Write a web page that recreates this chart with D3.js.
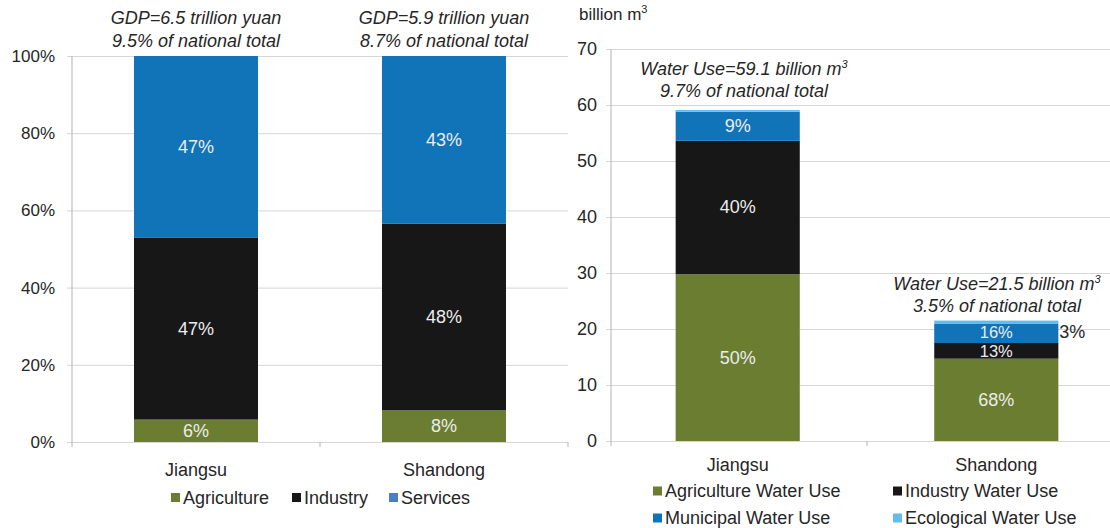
<!DOCTYPE html>
<html><head><meta charset="utf-8">
<script src="https://cdn.jsdelivr.net/npm/d3@7"></script>
<style>
html,body{margin:0;padding:0;background:#fff;}
text{font-family:"Liberation Sans",Arial,sans-serif;}
</style></head>
<body>
<svg id="chart" width="1110" height="528"></svg>
<script>
// ---------- data: left panel (GDP structure, % of GDP) ----------
const gdpCategories = ["Jiangsu", "Shandong"];
const gdpSeriesNames = ["Agriculture", "Industry", "Services"];
const gdpAgriculture = [5.8, 8.2];
const gdpIndustry = [47.2, 48.4];
const gdpServices = [47.0, 43.4];
const gdpNoteLine1 = ["GDP=6.5 trillion yuan", "GDP=5.9 trillion yuan"];
const gdpNoteLine2 = ["9.5% of national total", "8.7% of national total"];
const pctTicks = [0, 20, 40, 60, 80, 100];

// ---------- data: right panel (water use, billion m3) ----------
const waterCategories = ["Jiangsu", "Shandong"];
const waterSeriesNames = ["Agriculture Water Use", "Industry Water Use", "Municipal Water Use", "Ecological Water Use"];
const waterAgriculture = [29.8, 14.7];
const waterIndustry = [23.8, 2.8];
const waterMunicipal = [5.2, 3.4];
const waterEcological = [0.3, 0.6];
const waterTotals = [59.1, 21.5];
const waterNationalShare = [9.7, 3.5];
const waterTicks = [0, 10, 20, 30, 40, 50, 60, 70];

// ---------- styles ----------
const colAgri = "#6a7d31", colInd = "#171717", colServ = "#1174b9", colEco = "#64bbee";
const colServLegend = "#4b7fbf";
const gridCol = "#d6d6d6", axisCol = "#b3b3b3", textCol = "#262626", inCol = "#ececec";

const svg = d3.select("#chart");

function stackRows(cats, arrays) {
  return cats.map((c, i) => {
    let y0 = 0;
    return arrays.map((arr, k) => {
      const seg = { cat: c, k, v: arr[i], y0, y1: y0 + arr[i] };
      y0 += arr[i];
      return seg;
    });
  });
}

// ===================== LEFT PANEL =====================
{
  const x = d3.scaleBand().domain(gdpCategories).range([72, 568]).paddingInner(0.5).paddingOuter(0.25);
  const y = d3.scaleLinear().domain([0, 100]).range([442, 56]);
  const g = svg.append("g");

  const yAxis = d3.axisLeft(y).tickValues(pctTicks).tickFormat(d => d + "%").tickSize(-(568 - 67)).tickPadding(12);
  const ya = g.append("g").attr("transform", "translate(67,0)").call(yAxis);
  ya.select(".domain").remove();
  ya.selectAll("line").attr("stroke", gridCol).attr("x1", 0).attr("x2", 501);
  ya.selectAll("text").attr("fill", textCol).style("font-size", "17px").attr("x", -12);
  g.append("line").attr("x1", 72).attr("x2", 72).attr("y1", 56).attr("y2", 442).attr("stroke", axisCol);
  [72, 320, 568].forEach(px => g.append("line").attr("x1", px).attr("x2", px).attr("y1", 442).attr("y2", 447).attr("stroke", axisCol));

  const rows = stackRows(gdpCategories, [gdpAgriculture, gdpIndustry, gdpServices]);
  const colors = [colAgri, colInd, colServ];
  rows.forEach(row => row.forEach(s => {
    g.append("rect").attr("x", x(s.cat)).attr("width", x.bandwidth())
      .attr("y", y(s.y1)).attr("height", y(s.y0) - y(s.y1)).attr("fill", colors[s.k]);
    g.append("text").attr("x", x(s.cat) + x.bandwidth() / 2).attr("y", (y(s.y0) + y(s.y1)) / 2)
      .attr("dy", "0.35em").attr("text-anchor", "middle").attr("fill", inCol).style("font-size", "18px")
      .text(Math.round(s.v) + "%");
  }));

  gdpCategories.forEach(c => g.append("text").attr("x", x(c) + x.bandwidth() / 2).attr("y", 470)
    .attr("dy", "0.35em").attr("text-anchor", "middle").attr("fill", textCol).style("font-size", "18px").text(c));

  gdpCategories.forEach((c, i) => {
    const cx = x(c) + x.bandwidth() / 2;
    g.append("text").attr("x", cx).attr("y", 24).attr("text-anchor", "middle").attr("fill", textCol)
      .style("font-size", "18px").style("font-style", "italic").text(gdpNoteLine1[i]);
    g.append("text").attr("x", cx).attr("y", 47).attr("text-anchor", "middle").attr("fill", textCol)
      .style("font-size", "18px").style("font-style", "italic").text(gdpNoteLine2[i]);
  });

  const legX = [171, 292, 389];
  const legCols = [colAgri, colInd, colServLegend];
  gdpSeriesNames.forEach((n, i) => {
    g.append("rect").attr("x", legX[i]).attr("y", 493).attr("width", 9).attr("height", 9).attr("fill", legCols[i]);
    g.append("text").attr("x", legX[i] + 12).attr("y", 498).attr("dy", "0.35em").attr("fill", textCol)
      .style("font-size", "18px").text(n);
  });
}

// ===================== RIGHT PANEL =====================
{
  const x = d3.scaleBand().domain(waterCategories).range([611, 1123]).paddingInner(0.52).paddingOuter(0.25);
  const y = d3.scaleLinear().domain([0, 70]).range([441, 49]);
  const g = svg.append("g");

  const yAxis = d3.axisLeft(y).tickValues(waterTicks).tickFormat(d3.format("d")).tickSize(-(1110 - 606)).tickPadding(10);
  const ya = g.append("g").attr("transform", "translate(606,0)").call(yAxis);
  ya.select(".domain").remove();
  ya.selectAll("line").attr("stroke", gridCol).attr("x1", 0).attr("x2", 504);
  ya.selectAll("text").attr("fill", textCol).style("font-size", "18px").attr("x", -9);
  g.append("line").attr("x1", 611).attr("x2", 611).attr("y1", 49).attr("y2", 441).attr("stroke", axisCol);
  [611, 867].forEach(px => g.append("line").attr("x1", px).attr("x2", px).attr("y1", 441).attr("y2", 446).attr("stroke", axisCol));

  g.append("text").attr("x", 579).attr("y", 20).attr("fill", textCol).style("font-size", "17px")
    .text("billion m").append("tspan").attr("dy", "-7").style("font-size", "11px").text("3");

  const rows = stackRows(waterCategories, [waterAgriculture, waterIndustry, waterMunicipal, waterEcological]);
  const colors = [colAgri, colInd, colServ, colEco];
  rows.forEach((row, i) => row.forEach(s => {
    g.append("rect").attr("x", x(s.cat)).attr("width", x.bandwidth())
      .attr("y", y(s.y1)).attr("height", y(s.y0) - y(s.y1)).attr("fill", colors[s.k]);
    const share = Math.round(s.v / waterTotals[i] * 100);
    const segH = y(s.y0) - y(s.y1);
    if (s.k < 3) {
      const small = segH < 22;
      // in thin segments, shrink and nudge the label away from the neighbour it shares an edge with
      const nudge = small ? (s.k === 2 ? -1 : 1) : 0;
      g.append("text").attr("x", x(s.cat) + x.bandwidth() / 2).attr("y", (y(s.y0) + y(s.y1)) / 2 + nudge)
        .attr("dy", "0.33em").attr("text-anchor", "middle").attr("fill", inCol)
        .style("font-size", small ? "16.5px" : "18px")
        .text(share + "%");
    } else if (share >= 2) {
      g.append("text").attr("x", x(s.cat) + x.bandwidth() + 1).attr("y", y(s.y1) + 11)
        .attr("dy", "0.35em").attr("fill", textCol).style("font-size", "18px").text(share + "%");
    }
  }));

  waterCategories.forEach(c => g.append("text").attr("x", x(c) + x.bandwidth() / 2).attr("y", 465)
    .attr("dy", "0.35em").attr("text-anchor", "middle").attr("fill", textCol).style("font-size", "18px").text(c));

  const noteY = [[75, 97], [290, 312]];
  const noteX = [744, 997];
  waterCategories.forEach((c, i) => {
    const t = g.append("text").attr("x", noteX[i]).attr("y", noteY[i][0]).attr("text-anchor", "middle").attr("fill", textCol)
      .style("font-size", "18px").style("font-style", "italic");
    t.append("tspan").text("Water Use=" + waterTotals[i] + " billion m");
    t.append("tspan").attr("dy", "-7").style("font-size", "11px").text("3");
    g.append("text").attr("x", noteX[i]).attr("y", noteY[i][1]).attr("text-anchor", "middle").attr("fill", textCol)
      .style("font-size", "18px").style("font-style", "italic").text(waterNationalShare[i] + "% of national total");
  });

  const legPos = [[653, 491], [893, 491], [653, 518], [893, 518]];
  waterSeriesNames.forEach((n, i) => {
    g.append("rect").attr("x", legPos[i][0]).attr("y", legPos[i][1] - 4.5).attr("width", 9).attr("height", 9).attr("fill", colors[i]);
    g.append("text").attr("x", legPos[i][0] + 12).attr("y", legPos[i][1]).attr("dy", "0.35em").attr("fill", textCol)
      .style("font-size", "18px").text(n);
  });
}
</script>
</body></html>
